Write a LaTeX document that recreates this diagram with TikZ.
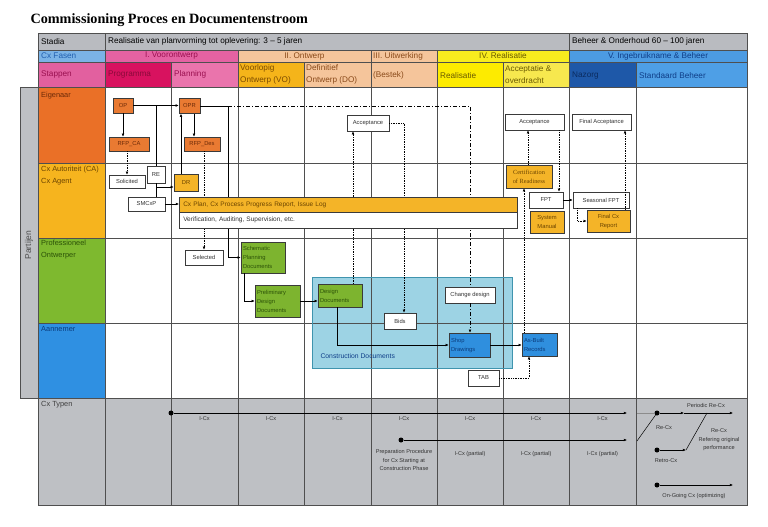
\documentclass[tikz,border=0pt]{standalone}
\usepackage{fontspec}
\setmainfont{Liberation Sans}
\newfontfamily\titlefont{Liberation Serif}
\usetikzlibrary{arrows.meta}

\pgfdeclarelayer{front}
\pgfsetlayers{main,front}

\definecolor{gridc}{HTML}{4F4F4F}
\definecolor{boxc}{HTML}{3A3A3A}
\definecolor{hdrgray}{HTML}{B9BBC0}
\definecolor{typegray}{HTML}{BEC0C4}
\definecolor{fasenblue}{HTML}{7BB3E6}
\definecolor{fasentext}{HTML}{2260B0}
\definecolor{phasepink}{HTML}{E462A2}
\definecolor{pinktext}{HTML}{9A1050}
\definecolor{stappink}{HTML}{E2609F}
\definecolor{programma}{HTML}{D8125F}
\definecolor{progtext}{HTML}{8A0A3A}
\definecolor{planpink}{HTML}{EA74AC}
\definecolor{peach}{HTML}{F5C59B}
\definecolor{peachtext}{HTML}{8A4A1A}
\definecolor{vogold}{HTML}{F5B41A}
\definecolor{votext}{HTML}{7A4A00}
\definecolor{phaseyellow}{HTML}{F8EC1E}
\definecolor{realyellow}{HTML}{FDEB00}
\definecolor{accyellow}{HTML}{F7E84E}
\definecolor{yellowtext}{HTML}{6A5A00}
\definecolor{phaseblue}{HTML}{4C9BE2}
\definecolor{nazorgblue}{HTML}{1E58A8}
\definecolor{beheerblue}{HTML}{4E9FE6}
\definecolor{bluetext}{HTML}{0F3E88}
\definecolor{eigorange}{HTML}{EA7027}
\definecolor{eigtext}{HTML}{6B2A08}
\definecolor{agentyellow}{HTML}{F6B41E}
\definecolor{agenttext}{HTML}{6B4400}
\definecolor{ontwgreen}{HTML}{7EB92F}
\definecolor{ontwtext}{HTML}{2C5208}
\definecolor{aanblue}{HTML}{2F90E2}
\definecolor{aantext}{HTML}{0B3C7C}
\definecolor{nodeorange}{HTML}{E97A32}
\definecolor{nodeyellow}{HTML}{F4B428}
\definecolor{nodegreen}{HTML}{7DB42F}
\definecolor{nodeblue}{HTML}{2F8FDE}
\definecolor{constrfill}{HTML}{9DD3E4}
\definecolor{constrline}{HTML}{3F94AE}

\tikzset{
  gridline/.style={draw=gridc, line width=0.6pt},
  hdrtext/.style={font=\fontsize{8.2}{11.5}\selectfont, inner sep=0pt, align=left},
  rowtext/.style={font=\fontsize{7.4}{12}\selectfont, anchor=north west, align=left, inner sep=0pt},
  docbox/.style={draw=boxc, line width=0.5pt, font=\fontsize{5.8}{9}\selectfont, align=center, inner sep=2pt},
  wbox/.style={docbox, fill=white, text=black!80},
  obox/.style={docbox, fill=nodeorange, text=eigtext},
  ybox/.style={docbox, fill=nodeyellow, text=agenttext},
  gbox/.style={docbox, fill=nodegreen, align=left, text=ontwtext},
  bbox/.style={docbox, fill=nodeblue, align=left, text=aantext},
  flow/.style={line width=0.55pt, -{Latex[length=3.2pt,width=2.8pt]}},
  dotflow/.style={flow, line width=0.7pt, densely dotted},
  dashdotline/.style={line width=0.55pt, dash pattern=on 4pt off 2pt on 1pt off 2pt},
  typedot/.style={circle, fill=black, inner sep=0pt, minimum size=5pt},
  typetext/.style={font=\fontsize{5.6}{8.5}\selectfont, align=center, text=black!80}
}

\begin{document}
\begin{tikzpicture}[x=1pt,y=-1pt]
\useasboundingbox[fill=white] (0,0) rectangle (768,527);

\node[anchor=west, font=\titlefont\bfseries\fontsize{14.2}{16}\selectfont] (titel) at (27,20) {Commissioning Proces en Documentenstroom};

% kop
\filldraw[fill=hdrgray, gridline] (38,33) rectangle (105,50);
\filldraw[fill=hdrgray, gridline] (105,33) rectangle (569,50);
\filldraw[fill=hdrgray, gridline] (569,33) rectangle (747,50);
\node[hdrtext, anchor=west] (stadia) at (41,41.5) {Stadia};
\node[hdrtext, anchor=west] (realisatieduur) at (108,41.5) {Realisatie van planvorming tot oplevering: 3 -- 5 jaren};
\node[hdrtext, anchor=west] (beheerduur) at (572,41.5) {Beheer \& Onderhoud 60 -- 100 jaren};

\filldraw[fill=fasenblue, gridline] (38,50) rectangle (105,62);
\filldraw[fill=phasepink, gridline] (105,50) rectangle (238,62);
\filldraw[fill=peach, gridline] (238,50) rectangle (371,62);
\filldraw[fill=peach, gridline] (371,50) rectangle (437,62);
\filldraw[fill=phaseyellow, gridline] (437,50) rectangle (569,62);
\filldraw[fill=phaseblue, gridline] (569,50) rectangle (747,62);
\node[hdrtext, anchor=west, text=fasentext] (cxfasen) at (41,56) {Cx Fasen};
\node[hdrtext, text=pinktext] (voorontwerp) at (171.5,56) {I. Voorontwerp};
\node[hdrtext, text=peachtext] (ontwerp) at (304.5,56) {II. Ontwerp};
\node[hdrtext, anchor=west, text=peachtext] (uitwerking) at (373,56) {III. Uitwerking};
\node[hdrtext, text=yellowtext] (realisatiefase) at (503,56) {IV. Realisatie};
\node[hdrtext, text=bluetext] (ingebruikname) at (658,56) {V. Ingebruikname \& Beheer};

\filldraw[fill=stappink, gridline] (38,62) rectangle (105,87);
\filldraw[fill=programma, gridline] (105,62) rectangle (171,87);
\filldraw[fill=planpink, gridline] (171,62) rectangle (238,87);
\filldraw[fill=vogold, gridline] (238,62) rectangle (304,87);
\filldraw[fill=peach, gridline] (304,62) rectangle (371,87);
\filldraw[fill=peach, gridline] (371,62) rectangle (437,87);
\filldraw[fill=realyellow, gridline] (437,62) rectangle (503,87);
\filldraw[fill=accyellow, gridline] (503,62) rectangle (569,87);
\filldraw[fill=nazorgblue, gridline] (569,62) rectangle (636,87);
\filldraw[fill=beheerblue, gridline] (636,62) rectangle (747,87);
\node[hdrtext, anchor=west, text=pinktext] (stappen) at (41,74.5) {Stappen};
\node[hdrtext, anchor=west, text=progtext] (programmastap) at (108,74.5) {Programma};
\node[hdrtext, anchor=west, text=pinktext] (planningstap) at (174,74.5) {Planning};
\node[hdrtext, anchor=west, text=votext] (vo) at (240,74.5) {Voorlopig\\Ontwerp (VO)};
\node[hdrtext, anchor=west, text=peachtext] (do) at (306,74.5) {Definitief\\Ontwerp (DO)};
\node[hdrtext, anchor=west, text=peachtext] (bestek) at (373,75.5) {(Bestek)};
\node[hdrtext, anchor=west, text=yellowtext] (realisatiestap) at (440,75.5) {Realisatie};
\node[hdrtext, anchor=west, text=yellowtext] (acceptatie) at (505,74.5) {Acceptatie \&\\overdracht};
\node[hdrtext, anchor=west, text=bluetext!70!black] (nazorg) at (572,75.5) {Nazorg};
\node[hdrtext, anchor=west, text=bluetext] (standaard) at (639,75.5) {Standaard Beheer};

% partijen
\filldraw[fill=typegray, gridline] (20,87) rectangle (38,398);
\node[rotate=90, font=\fontsize{8.5}{9}\selectfont, text=black!70] (partijen) at (29,245) {Partijen};
\fill[eigorange] (38,87) rectangle (105,163);
\fill[agentyellow] (38,163) rectangle (105,238);
\fill[ontwgreen] (38,238) rectangle (105,323);
\fill[aanblue] (38,323) rectangle (105,398);
\node[rowtext, text=eigtext] (eigenaar) at (41,92) {Eigenaar};
\node[rowtext, text=agenttext] (agent) at (41,166) {Cx Autoriteit (CA)\\Cx Agent};
\node[rowtext, text=ontwtext] (ontwerper) at (41,240) {Professioneel\\Ontwerper};
\node[rowtext, text=aantext] (aannemer) at (41,326) {Aannemer};

\fill[constrfill] (312,277) rectangle (512,368);

\foreach \x in {38,105,171,238,304,371,437,503,569,636,747}
  \draw[gridline] (\x,87) -- (\x,398);
\foreach \y in {87,163,238,323}
  \draw[gridline] (38,\y) -- (747,\y);

\draw[constrline, line width=0.6pt] (312,277) rectangle (512,368);
\node[font=\fontsize{6.8}{7}\selectfont, anchor=west, text=bluetext] (constrdocs) at (317,356) {Construction Documents};

% cx typen
\filldraw[fill=typegray, gridline] (38,398) rectangle (747,505);
\foreach \x in {105,171,238,304,371,437,503,569,636}
  \draw[gridline] (\x,398) -- (\x,505);
\node[rowtext, text=black!75] (cxtypen) at (41,401) {Cx Typen};

% eigenaar
\node[obox, minimum width=20, minimum height=15] (op) at (123,105.5) {OP};
\node[obox, minimum width=40, minimum height=14] (rfpca) at (129,144) {RFP\_CA};
\node[obox, minimum width=21, minimum height=15] (opr) at (189.5,106) {OPR};
\node[obox, minimum width=36, minimum height=14] (rfpdes) at (202,144) {RFP\_Des};
\node[wbox, minimum width=42, minimum height=16] (acc1) at (368,123) {Acceptance};
\node[wbox, minimum width=59, minimum height=16] (acc2) at (534.5,122) {Acceptance};
\node[wbox, minimum width=59, minimum height=16] (finacc) at (601.5,122) {Final Acceptance};

% cx agent
\node[wbox, minimum width=36, minimum height=13] (solicited) at (127,181.5) {Solicited};
\node[wbox, minimum width=18, minimum height=17] (re) at (156,174.5) {RE};
\node[ybox, minimum width=24, minimum height=17] (dr) at (186,182.5) {DR};
\node[wbox, minimum width=37, minimum height=14] (smcxp) at (146.5,204) {SMCxP};
\begin{pgfonlayer}{front}
\node[ybox, anchor=north west, text width=330pt, inner xsep=4pt, inner ysep=0pt, minimum height=15, align=left,
  font=\fontsize{6.5}{8}\selectfont] (cxplan) at (179,197) {Cx Plan, Cx Process Progress Report, Issue Log};
\node[wbox, anchor=north west, text width=330pt, inner xsep=4pt, inner ysep=0pt, minimum height=16, align=left,
  font=\fontsize{6.5}{8}\selectfont] (verif) at (179,212) {Verification, Auditing, Supervision, etc.};
\end{pgfonlayer}
\node[ybox, minimum width=46, minimum height=23, font=\titlefont\fontsize{6.3}{9}\selectfont] (cert) at (529,176.5) {Certification\\of Readiness};
\node[wbox, minimum width=34, minimum height=16] (fpt) at (546,200) {FPT};
\node[ybox, minimum width=34, minimum height=22] (sysman) at (547,222) {System\\Manual};
\node[wbox, minimum width=56, minimum height=16] (sfpt) at (601,200) {Seasonal FPT};
\node[ybox, minimum width=43, minimum height=22] (fincx) at (608.5,221) {Final Cx\\Report};

% ontwerper en aannemer
\node[wbox, minimum width=38, minimum height=15] (selected) at (204,257.5) {Selected};
\node[gbox, text width=40pt, minimum height=31] (schem) at (263,257.5) {Schematic\\Planning\\Documents};
\node[gbox, text width=41pt, minimum height=32] (prelim) at (277.5,301) {Preliminary\\Design\\Documents};
\node[gbox, text width=40pt, minimum height=23] (designdoc) at (340,295.5) {Design\\Documents};
\node[wbox, minimum width=32, minimum height=16] (bids) at (400,321) {Bids};
\node[wbox, minimum width=50, minimum height=16] (chdes) at (470,295) {Change design};
\node[bbox, text width=37pt, minimum height=24] (shop) at (469.5,345) {Shop\\Drawings};
\node[bbox, text width=31pt, minimum height=23] (asbuilt) at (539.5,344.5) {As-Built\\Records};
\node[wbox, minimum width=31, minimum height=16] (tab) at (483.5,378) {TAB};

% verbindingen
\coordinate (oprturn) at (228,106);
\coordinate (rejoin) at (156,187);
\draw[flow] (op.south) -- (op.south |- rfpca.north);
\draw[flow] (op.east) -- (op.east -| opr.west);
\draw[line width=0.55pt] (re.north |- op.east) -- (re.north);
\draw[line width=0.55pt] (re.south) -- (re.south |- smcxp.north);
\draw[flow] (rejoin) -- (rejoin -| dr.west);
\draw[flow] ([xshift=-5pt]dr.north) -- ([xshift=-5pt]dr.north |- opr.south);
\draw[flow] ([xshift=4.5pt]opr.south) -- ([xshift=4.5pt]opr.south |- rfpdes.north);
\draw[flow] (smcxp.east) -- (smcxp.east -| cxplan.west);
\draw[dotflow] (solicited.north |- rfpca.south) -- (solicited.north);
\draw[dotflow] (selected.north |- rfpdes.south) -- (selected.north);
\draw[line width=0.55pt] (opr.east) -- (oprturn);
\draw[flow] (oprturn) |- (schem.west);
\draw[dashdotline] (oprturn) -| (chdes.north);
\draw[dashdotline, flow] (chdes.south) -- (chdes.south |- shop.north);
\draw[flow] ([xshift=-19pt]schem.south) |- (prelim.west);
\draw[flow] (prelim.east) -- (prelim.east -| designdoc.west);
\draw[dotflow] ([xshift=13pt]designdoc.north) -- ([xshift=13pt]designdoc.north |- acc1.south);
\draw[dotflow] (acc1.east) -| ([xshift=4pt]bids.north);
\draw[flow] ([xshift=-3pt]designdoc.south) |- (shop.west);
\draw[flow] (shop.east) -- (shop.east -| asbuilt.west);
\draw[dotflow] (tab.east) -| ([xshift=-10.5pt]asbuilt.south);
\draw[dotflow] ([xshift=-15.5pt]asbuilt.north) -- ([xshift=-15.5pt]asbuilt.north |- cert.south);
\draw[dotflow] ([xshift=-1pt]cert.north) -- ([xshift=-1pt]cert.north |- acc2.south);
\draw[dotflow] ([xshift=24.5pt]acc2.south) -- ([xshift=24.5pt]acc2.south |- fpt.north);
\draw[flow] (fpt.east) -- (sfpt.west);
\draw[dotflow] ([xshift=-24pt]sfpt.south) |- (fincx.west);
\draw[dotflow] ([xshift=16.5pt]fincx.north) -- ([xshift=16.5pt]fincx.north |- finacc.south);

% cx typen
\node[typedot] (icx) at (171,413) {};
\coordinate (icxend) at (627,413);
\draw[flow] (icx) -- (icxend);
\foreach \x [count=\i] in {204.5,271,337.5,404,470,536,602.5}
  \node[typetext] (icxlabel\i) at (\x,419) {I-Cx};
\node[typedot] (prep) at (401,440) {};
\coordinate (prepend) at (627,440);
\draw[flow] (prep) -- (prepend);
\node[typetext] (preplabel) at (404,460) {Preparation Procedure\\for Cx Starting at\\Construction Phase};
\foreach \x [count=\i] in {470,536,602.5}
  \node[typetext] (partial\i) at (\x,454) {I-Cx (partial)};

\node[typedot] (recx) at (657,413) {};
\coordinate (recxin) at (637,413);
\coordinate (partialend) at (637,441);
\coordinate (periodic) at (684,413);
\coordinate (periodicend) at (733,413);
\draw[black!45, line width=0.5pt] (recxin) -- (recx);
\draw[line width=0.5pt] (partialend) -- (recx);
\draw[flow] (recx) -- (periodic);
\draw[flow] (periodic) -- (periodicend);
\node[typedot] (retrocx) at (657,450) {};
\coordinate (retroend) at (686,450);
\coordinate (refering) at (707,413);
\draw[flow] (retrocx) -- (retroend);
\draw[line width=0.5pt] (retroend) -- (refering);
\node[typedot] (ongoing) at (657,485) {};
\coordinate (ongoingend) at (733,485);
\draw[flow] (ongoing) -- (ongoingend);
\node[typetext] (periodiclabel) at (706,405) {Periodic Re-Cx};
\node[typetext] (recxlabel) at (664,428) {Re-Cx};
\node[typetext] (referlabel) at (719,440) {Re-Cx\\Refering original\\performance};
\node[typetext] (retrolabel) at (666,461) {Retro-Cx};
\node[typetext] (ongoinglabel) at (694,496) {On-Going Cx (optimizing)};
\end{tikzpicture}
\end{document}
